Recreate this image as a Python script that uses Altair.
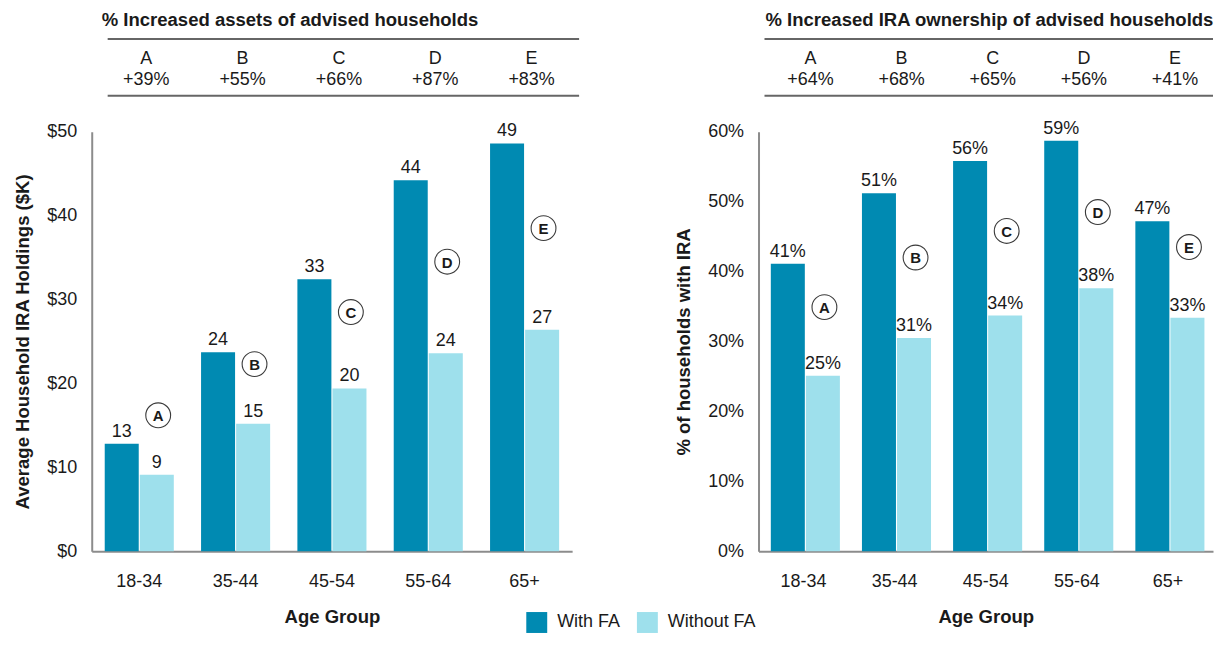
import altair as alt
import pandas as pd

# ---------------- data ----------------
AGE = ["18-34", "35-44", "45-54", "55-64", "65+"]
SERIES = ["With FA", "Without FA"]
LETTERS = ["A", "B", "C", "D", "E"]

ASSET_WITH = [12.8, 23.7, 32.4, 44.2, 48.6]
ASSET_WITHOUT = [9.1, 15.2, 19.4, 23.6, 26.4]
ASSET_WITH_LBL = ["13", "24", "33", "44", "49"]
ASSET_WITHOUT_LBL = ["9", "15", "20", "24", "27"]
ASSET_INCREASE = ["+39%", "+55%", "+66%", "+87%", "+83%"]
ASSET_MARKER = [16.2, 22.3, 28.5, 34.5, 38.5]

OWN_WITH = [41.1, 51.2, 55.8, 58.7, 47.2]
OWN_WITHOUT = [25.1, 30.5, 33.7, 37.6, 33.4]
OWN_WITH_LBL = ["41%", "51%", "56%", "59%", "47%"]
OWN_WITHOUT_LBL = ["25%", "31%", "34%", "38%", "33%"]
OWN_INCREASE = ["+64%", "+68%", "+65%", "+56%", "+41%"]
OWN_MARKER = [34.9, 42.0, 45.8, 48.5, 43.5]

TITLES = ["% Increased assets of advised households",
          "% Increased IRA ownership of advised households"]
Y_TITLES = ["Average Household IRA Holdings ($K)", "% of households with IRA"]

# ---------------- style ----------------
FONT = "Liberation Sans"
DARK, LIGHT = "#008AB2", "#9EE0EC"
TXT = "#1a1a1a"
AXIS_C = "#8c8c8c"
FS, FSB = 18, 18.6
LEFT_W, RIGHT_W, H = 482, 456, 421


def panel(title, ytitle, ymax, step, label_expr, with_v, without_v, with_l, without_l,
          incr, marker, circ_dx, rule_x0, rule_x1, title_x, width):
    bars_df = pd.DataFrame({
        "age": AGE * 2,
        "series": [SERIES[0]] * 5 + [SERIES[1]] * 5,
        "value": with_v + without_v,
        "label": with_l + without_l,
    })
    x = alt.X("age:N", sort=AGE,
              scale=alt.Scale(domain=AGE, paddingInner=0.283, paddingOuter=0.135),
              axis=alt.Axis(title="Age Group", labelAngle=0, labelPadding=21,
                            titlePadding=18))
    y = alt.Y("value:Q",
              scale=alt.Scale(domain=[0, ymax], nice=False, zero=True),
              axis=alt.Axis(title=ytitle, values=list(range(0, ymax + 1, step)),
                            labelExpr=label_expr, labelPadding=15, titlePadding=14.5))
    color = alt.Color("series:N", sort=SERIES,
                      scale=alt.Scale(domain=SERIES, range=[DARK, LIGHT]),
                      legend=alt.Legend(title=None, orient="none", direction="horizontal",
                                        legendX=436, legendY=482,
                                        symbolType="square", symbolSize=441,
                                        symbolStrokeWidth=0, symbolOpacity=1,
                                        labelFont=FONT, labelFontSize=FS,
                                        labelColor=TXT, labelOffset=10,
                                        columnPadding=16))
    xoff = alt.XOffset("series:N", sort=SERIES,
                       scale=alt.Scale(domain=SERIES, paddingInner=0.03))

    base = alt.Chart(bars_df)
    bars = base.mark_bar().encode(x=x, y=y, color=color, xOffset=xoff)
    vlabels = base.mark_text(baseline="alphabetic", dy=-7, font=FONT, fontSize=FS,
                             color=TXT).encode(x=x, y=y, xOffset=xoff, text="label:N")

    mk_df = pd.DataFrame({"age": AGE, "value": marker, "letter": LETTERS})
    circles = alt.Chart(mk_df).mark_point(shape="circle", size=620, filled=False,
                                          color="#3a3a3a", strokeWidth=1.1,
                                          opacity=1, xOffset=circ_dx).encode(x=x, y=y)
    circ_txt = alt.Chart(mk_df).mark_text(font=FONT, fontSize=15, fontWeight="bold",
                                          color=TXT, xOffset=circ_dx, baseline="middle",
                                          dy=1).encode(x=x, y=y, text="letter:N")

    hd_df = pd.DataFrame({"age": AGE, "letter": LETTERS, "incr": incr})
    hd_letters = alt.Chart(hd_df).mark_text(font=FONT, fontSize=FS, color=TXT,
                                            baseline="middle", dx=7).encode(
        x=x, y=alt.value(-73), text="letter:N")
    hd_incr = alt.Chart(hd_df).mark_text(font=FONT, fontSize=FS, color=TXT,
                                         baseline="middle", dx=7).encode(
        x=x, y=alt.value(-52), text="incr:N")

    t_df = pd.DataFrame({"t": [title]})
    hd_title = alt.Chart(t_df).mark_text(font=FONT, fontSize=FSB, fontWeight="bold",
                                         color=TXT, align="left",
                                         baseline="middle").encode(
        x=alt.value(title_x), y=alt.value(-112), text="t:N")
    rule_top = alt.Chart(t_df).mark_rule(color="#666666", strokeWidth=2).encode(
        x=alt.value(rule_x0), x2=alt.value(rule_x1), y=alt.value(-93))
    rule_bot = alt.Chart(t_df).mark_rule(color="#666666", strokeWidth=2).encode(
        x=alt.value(rule_x0), x2=alt.value(rule_x1), y=alt.value(-36))

    return alt.layer(bars, vlabels, circles, circ_txt, hd_title, rule_top, rule_bot,
                     hd_letters, hd_incr).properties(width=width, height=H)


left = panel(TITLES[0], Y_TITLES[0], 50, 10, "'$' + datum.value",
             ASSET_WITH, ASSET_WITHOUT, ASSET_WITH_LBL, ASSET_WITHOUT_LBL,
             ASSET_INCREASE, ASSET_MARKER, 19, 16, 489, 10, LEFT_W)
right = panel(TITLES[1], Y_TITLES[1], 60, 10, "datum.value + '%'",
              OWN_WITH, OWN_WITHOUT, OWN_WITH_LBL, OWN_WITHOUT_LBL,
              OWN_INCREASE, OWN_MARKER, 21, 6, RIGHT_W, 7, RIGHT_W)

chart = alt.hconcat(left, right, spacing=94).properties(
    padding={"left": 5, "top": 2, "right": 0, "bottom": 0}
).configure_view(stroke=None).configure_axis(
    grid=False, ticks=False, tickSize=0, domainColor=AXIS_C, domainWidth=2,
    labelFont=FONT, labelFontSize=FS, labelColor=TXT,
    titleFont=FONT, titleFontSize=FSB, titleFontWeight="bold", titleColor=TXT,
)

chart.save("out.html", embed_options={"renderer": "svg", "actions": False})
